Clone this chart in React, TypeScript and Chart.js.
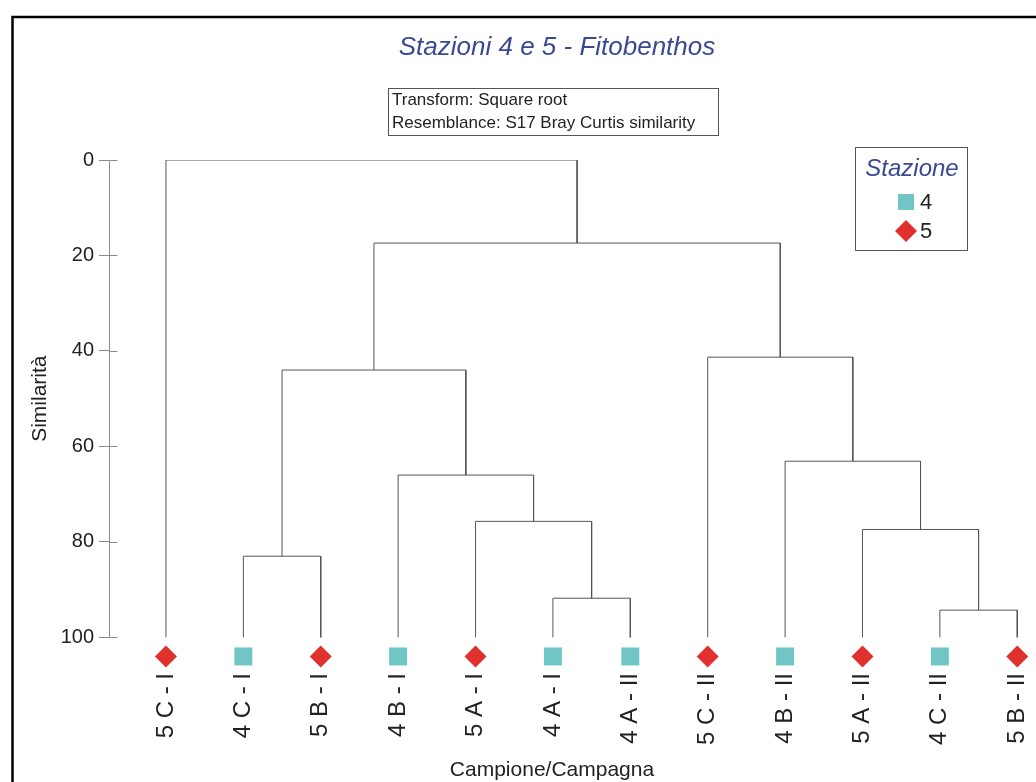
import { useEffect, useRef } from 'react';
import { Chart, registerables } from 'chart.js';

Chart.register(...registerables);

// ---- data ----
const leafLabels = ['5 C - I', '4 C - I', '5 B - I', '4 B - I', '5 A - I', '4 A - I', '4 A - II', '5 C - II', '4 B - II', '5 A - II', '4 C - II', '5 B - II'];
const leafStations = ['5', '4', '5', '4', '5', '4', '4', '5', '4', '5', '4', '5'];
// merges: node ids 0..11 are leaves, merge k creates node 12+k
const mergeLeft = [5, 10, 1, 9, 4, 3, 8, 14, 7, 19, 0];
const mergeRight = [6, 11, 2, 13, 12, 16, 15, 17, 18, 20, 21];
const mergeSimilarity = [91.8, 94.3, 83.0, 77.4, 75.7, 66.0, 63.1, 44.0, 41.3, 17.4, 0];
const leafLevel = 100;
const markerLevel = 104;
const yTicks = [0, 20, 40, 60, 80, 100];
const stations = ['4', '5'];
const stationColors = ['#6fc6c5', '#e0312e'];
const stationShapes = ['rect', 'rectRot'];
const stationRadius = [12.7, 11];

const FONT = "'Liberation Sans', Arial, sans-serif";
const LINE_COLOR = '#555555';
const AXIS_COLOR = '#8a8a8a';
const BLUE = '#3a4a90';
const TEXT = '#222222';

function buildLineDatasets() {
  const nx: number[] = leafLabels.map((_, i) => i);
  const ny: number[] = leafLabels.map(() => leafLevel);
  const sets: any[] = [];
  mergeSimilarity.forEach((s, k) => {
    const l = mergeLeft[k];
    const r = mergeRight[k];
    nx.push((nx[l] + nx[r]) / 2);
    ny.push(s);
    sets.push({
      type: 'scatter',
      showLine: true,
      data: [
        { x: nx[l], y: ny[l] },
        { x: nx[l], y: s },
        { x: nx[r], y: s },
        { x: nx[r], y: ny[r] },
      ],
      borderColor: LINE_COLOR,
      borderWidth: 1,
      pointRadius: 0,
      fill: false,
      tension: 0,
      order: 2,
    });
  });
  return sets;
}

function buildMarkerDatasets() {
  return stations.map((st, si) => ({
    type: 'scatter',
    label: st,
    data: leafLabels
      .map((_, i) => i)
      .filter((i) => leafStations[i] === st)
      .map((i) => ({ x: i, y: markerLevel })),
    pointStyle: stationShapes[si],
    pointRadius: stationRadius[si],
    pointBackgroundColor: stationColors[si],
    pointBorderColor: stationColors[si],
    pointBorderWidth: 0,
    showLine: false,
    clip: false,
    order: 1,
  }));
}

const decorPlugin = {
  id: 'decor',
  afterDraw(chart: any) {
    const ctx = chart.ctx;
    const yScale = chart.scales.y;
    const left = chart.chartArea.left;
    ctx.save();
    // axis line (0..100) and inner tick stubs
    ctx.strokeStyle = AXIS_COLOR;
    ctx.lineWidth = 1;
    const ax = Math.round(left) + 0.5;
    const yTop = yScale.getPixelForValue(yTicks[0]);
    const yBot = yScale.getPixelForValue(yTicks[yTicks.length - 1]);
    ctx.beginPath();
    ctx.moveTo(ax, Math.round(yTop) + 0.5);
    ctx.lineTo(ax, Math.round(yBot) + 0.5);
    ctx.stroke();
    yTicks.forEach((v) => {
      const py = Math.round(yScale.getPixelForValue(v)) + 0.5;
      ctx.beginPath();
      ctx.moveTo(ax, py);
      ctx.lineTo(ax + 8, py);
      ctx.stroke();
    });
    // axis titles
    ctx.fillStyle = TEXT;
    ctx.font = `21px ${FONT}`;
    ctx.textAlign = 'center';
    ctx.textBaseline = 'middle';
    ctx.save();
    ctx.translate(40, (yTop + yBot) / 2);
    ctx.rotate(-Math.PI / 2);
    ctx.fillText('Similarità', 0, 0);
    ctx.restore();
    ctx.fillText('Campione/Campagna', 552, 770);
    // frame
    ctx.strokeStyle = '#000';
    ctx.lineWidth = 2.5;
    ctx.strokeRect(12.5, 17, 2000, 2000);
    // title
    ctx.fillStyle = BLUE;
    ctx.font = `italic 26px ${FONT}`;
    ctx.textAlign = 'center';
    ctx.fillText('Stazioni 4 e 5 - Fitobenthos', 557, 48);
    // info box
    ctx.strokeStyle = '#555';
    ctx.lineWidth = 1;
    ctx.strokeRect(388.5, 88.5, 330, 47);
    ctx.fillStyle = TEXT;
    ctx.font = `17px ${FONT}`;
    ctx.textAlign = 'left';
    ctx.fillText('Transform: Square root', 392, 100);
    ctx.fillText('Resemblance: S17 Bray Curtis similarity', 392, 123);
    // legend box
    ctx.strokeStyle = '#555';
    ctx.strokeRect(855.5, 147.5, 112, 103);
    ctx.fillStyle = BLUE;
    ctx.font = `italic 24px ${FONT}`;
    ctx.textAlign = 'center';
    ctx.fillText('Stazione', 912, 169);
    const rows = [202, 231];
    stations.forEach((st, si) => {
      const cy = rows[si];
      const cx = 906;
      ctx.fillStyle = stationColors[si];
      ctx.beginPath();
      if (stationShapes[si] === 'rect') {
        ctx.rect(cx - 8, cy - 8, 16, 16);
      } else {
        ctx.moveTo(cx - 11, cy);
        ctx.lineTo(cx, cy - 11);
        ctx.lineTo(cx + 11, cy);
        ctx.lineTo(cx, cy + 11);
        ctx.closePath();
      }
      ctx.fill();
      ctx.fillStyle = TEXT;
      ctx.font = `22px ${FONT}`;
      ctx.textAlign = 'left';
      ctx.fillText(st, 920, cy + 1);
    });
    ctx.restore();
  },
};

export default function App() {
  const ref = useRef<HTMLCanvasElement>(null);
  useEffect(() => {
    document.body.style.margin = '0';
    const canvas = ref.current;
    if (!canvas) return;
    Chart.defaults.font.family = FONT;
    const chart = new Chart(canvas, {
      type: 'scatter',
      data: { datasets: [...buildLineDatasets(), ...buildMarkerDatasets()] as any },
      options: {
        responsive: false,
        animation: false,
        events: [],
        layout: { padding: { top: 160, left: 0, right: 0, bottom: 0 } },
        plugins: { legend: { display: false }, tooltip: { enabled: false }, title: { display: false } },
        scales: {
          x: {
            type: 'linear',
            min: -0.736,
            max: 11.078,
            afterBuildTicks: (s: any) => {
              s.ticks = leafLabels.map((_, i) => ({ value: i }));
            },
            afterFit: (s: any) => {
              s.height = 116;
              s.paddingLeft = 0;
              s.paddingRight = 0;
            },
            ticks: {
              autoSkip: false,
              maxRotation: 90,
              minRotation: 90,
              padding: 7,
              color: TEXT,
              font: { size: 24, family: FONT },
              callback: (v: any) => leafLabels[Math.round(Number(v))] ?? '',
            },
            grid: { display: false, drawTicks: false },
            border: { display: false },
            title: { display: false },
          },
          y: {
            type: 'linear',
            reverse: true,
            min: 0,
            max: 106,
            afterBuildTicks: (s: any) => {
              s.ticks = yTicks.map((v) => ({ value: v }));
            },
            afterFit: (s: any) => {
              s.width = 109;
              s.paddingTop = 0;
              s.paddingBottom = 0;
            },
            ticks: { padding: 5, color: TEXT, font: { size: 20, family: FONT } },
            grid: { display: true, drawOnChartArea: false, drawTicks: true, tickLength: 10, color: AXIS_COLOR, lineWidth: 1 },
            border: { display: false },
            title: { display: false },
          },
        },
      } as any,
      plugins: [decorPlugin],
    });
    return () => chart.destroy();
  }, []);
  return <canvas ref={ref} width={1036} height={782} style={{ display: 'block' }} />;
}
